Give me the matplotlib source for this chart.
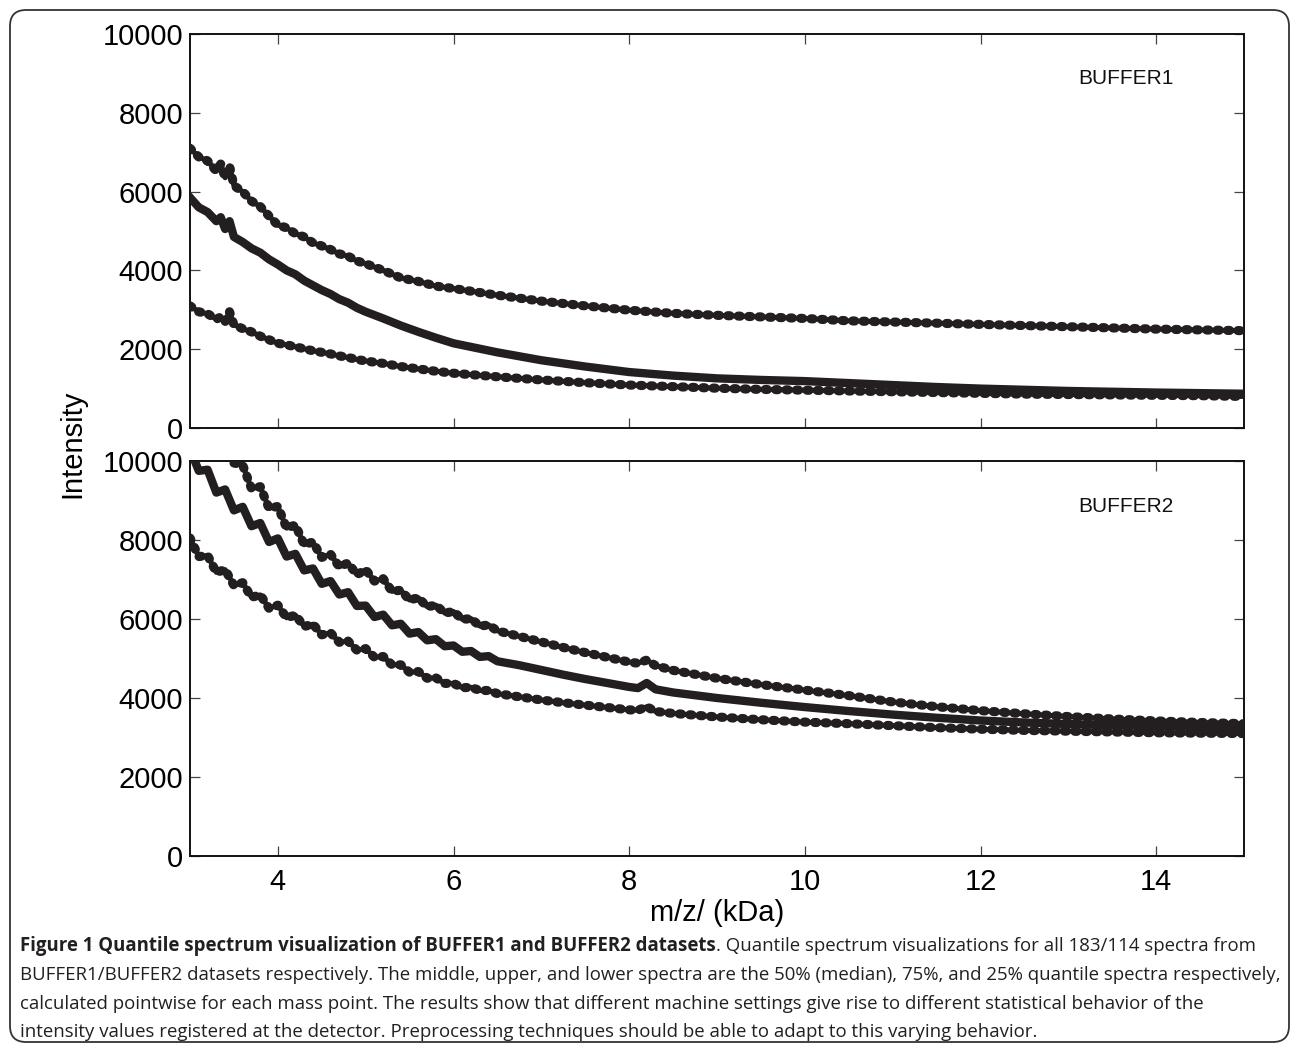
import matplotlib
matplotlib.use("Agg")
import matplotlib.pyplot as plt
from matplotlib.patches import FancyBboxPatch

plt.rcParams["font.family"] = ["Liberation Sans", "DejaVu Sans"]
plt.rcParams["lines.scale_dashes"] = False

# ---- BUFFER1 quantile spectra (m/z in kDa, intensity) ----
mz1 = [3.0, 3.1, 3.2, 3.3, 3.35, 3.4, 3.45, 3.5, 3.6, 3.7, 3.8, 3.9, 4.0,
       4.1, 4.2, 4.3, 4.4, 4.5, 4.6, 4.7, 4.8, 4.9, 5.0, 5.2, 5.4, 5.6,
       5.8, 6.0, 6.5, 7.0, 7.5, 8.0, 8.5, 9.0, 9.5, 10.0, 10.5, 11.0,
       11.5, 12.0, 12.5, 13.0, 13.5, 14.0, 14.5, 15.0]
b1_q75 = [7100, 6880, 6780, 6520, 6700, 6350, 6650, 6150, 6000, 5760, 5620,
          5380, 5150, 5080, 4930, 4850, 4700, 4620, 4530, 4420, 4360, 4240,
          4170, 4000, 3810, 3720, 3600, 3540, 3370, 3220, 3100, 2990, 2910,
          2860, 2820, 2780, 2720, 2690, 2660, 2630, 2600, 2570, 2540, 2510,
          2490, 2470]
b1_q50 = [5850, 5600, 5480, 5250, 5350, 5050, 5250, 4850, 4720, 4560, 4450,
          4280, 4150, 4000, 3900, 3740, 3620, 3500, 3400, 3270, 3180, 3050,
          2950, 2780, 2600, 2440, 2290, 2150, 1920, 1720, 1560, 1420, 1330,
          1260, 1220, 1190, 1140, 1090, 1040, 1000, 970, 940, 920, 900, 885,
          870]
b1_q25 = [3100, 2950, 2900, 2760, 2820, 2700, 2950, 2620, 2520, 2440, 2330,
          2240, 2150, 2110, 2060, 2010, 1960, 1920, 1880, 1830, 1790, 1740,
          1700, 1640, 1560, 1500, 1440, 1390, 1300, 1220, 1150, 1090, 1050,
          1010, 980, 960, 940, 920, 900, 880, 860, 850, 840, 830, 820, 800]

# ---- BUFFER2 quantile spectra ----
mz2 = [3.0, 3.1, 3.2, 3.3, 3.4, 3.5, 3.6, 3.7, 3.8, 3.9, 4.0, 4.1, 4.2, 4.3,
       4.4, 4.5, 4.6, 4.7, 4.8, 4.9, 5.0, 5.1, 5.2, 5.3, 5.4, 5.5, 5.6, 5.7,
       5.8, 5.9, 6.0, 6.1, 6.2, 6.3, 6.4, 6.5, 6.75, 7.0, 7.25, 7.5, 7.75,
       8.0, 8.1, 8.2, 8.3, 8.5, 9.0, 9.5, 10.0, 10.5, 11.0, 11.5, 12.0, 12.5,
       13.0, 13.5, 14.0, 14.5, 15.0]
b2_q75 = [11800, 11300, 11300, 10650, 10600, 9950, 9900, 9300, 9350, 8800,
          8850, 8300, 8380, 7880, 7950, 7560, 7640, 7320, 7420, 7120, 7250,
          6960, 7020, 6700, 6730, 6480, 6540, 6310, 6350, 6150, 6190, 5990,
          6010, 5820, 5850, 5700, 5560, 5420, 5280, 5150, 5030, 4910, 4880,
          4960, 4820, 4700, 4500, 4340, 4200, 4060, 3900, 3780, 3680, 3600,
          3530, 3470, 3420, 3380, 3350]
b2_q50 = [10300, 9750, 9780, 9200, 9280, 8750, 8840, 8350, 8430, 7950, 8040,
          7580, 7650, 7230, 7280, 6890, 6960, 6620, 6680, 6330, 6340, 6050,
          6110, 5840, 5880, 5630, 5670, 5460, 5490, 5310, 5330, 5170, 5190,
          5040, 5060, 4930, 4830, 4710, 4590, 4480, 4380, 4280, 4250, 4380,
          4220, 4140, 4000, 3880, 3770, 3670, 3580, 3500, 3430, 3380, 3340,
          3310, 3290, 3270, 3250]
b2_q25 = [8050, 7580, 7610, 7180, 7250, 6850, 6920, 6550, 6610, 6270, 6350,
          6030, 6100, 5810, 5870, 5600, 5650, 5410, 5440, 5210, 5250, 5030,
          5050, 4840, 4840, 4650, 4670, 4500, 4510, 4370, 4370, 4260, 4270,
          4190, 4190, 4110, 4030, 3950, 3880, 3820, 3760, 3700, 3690, 3780,
          3660, 3610, 3520, 3450, 3390, 3350, 3300, 3250, 3210, 3180, 3160,
          3140, 3120, 3110, 3100]

panel_names = ["BUFFER1", "BUFFER2"]
x_ticks = [4, 6, 8, 10, 12, 14]
y_ticks = [0, 2000, 4000, 6000, 8000, 10000]

caption_bold = "Figure 1 Quantile spectrum visualization of BUFFER1 and BUFFER2 datasets"
caption_lines = [
    ". Quantile spectrum visualizations for all 183/114 spectra from",
    "BUFFER1/BUFFER2 datasets respectively. The middle, upper, and lower spectra are the 50% (median), 75%, and 25% quantile spectra respectively,",
    "calculated pointwise for each mass point. The results show that different machine settings give rise to different statistical behavior of the",
    "intensity values registered at the detector. Preprocessing techniques should be able to adapt to this varying behavior.",
]

INK = "#231f20"
W, H = 1292, 1051
fig = plt.figure(figsize=(W / 100, H / 100), dpi=100)
fig.patch.set_facecolor("white")


def px_axes(left, top, right, bottom):
    return fig.add_axes([left / W, 1 - bottom / H, (right - left) / W, (bottom - top) / H])


ax_top = px_axes(190, 34, 1244, 428)
ax_bot = px_axes(190, 461, 1244, 856)


def draw_quantiles(ax, mz, q75, q50, q25):
    for q in (q75, q25):
        ax.plot(mz, q, color=INK, lw=3.6, solid_capstyle="round",
                solid_joinstyle="round", zorder=2)
        ax.plot(mz, q, color=INK, lw=6.6, linestyle=(0, (1.5, 6.0)),
                dash_capstyle="round", zorder=3)
    ax.plot(mz, q50, color=INK, lw=6.0, solid_joinstyle="round", zorder=3)


draw_quantiles(ax_top, mz1, b1_q75, b1_q50, b1_q25)
draw_quantiles(ax_bot, mz2, b2_q75, b2_q50, b2_q25)

for ax, name in zip((ax_top, ax_bot), panel_names):
    ax.set_xlim(3, 15)
    ax.set_ylim(0, 10000)
    ax.set_xticks(x_ticks)
    ax.set_yticks(y_ticks)
    ax.tick_params(direction="in", length=7, width=0.9, color="#444444",
                   top=True, right=True, labelsize=21, pad=5)
    ax.tick_params(axis="x", pad=9)
    for sp in ax.spines.values():
        sp.set_linewidth(1.4)
        sp.set_color("#111111")
    ax.text(0.8425, 0.886, name, transform=ax.transAxes, fontsize=15,
            ha="left", va="center", color="#111111")

ax_top.tick_params(labelbottom=False)

fig.text(72 / W, 1 - 444 / H, "Intensity", rotation=90, fontsize=21,
         ha="center", va="center")
fig.text(717 / W, 1 - 913 / H, "m/z/ (kDa)", fontsize=21,
         ha="center", va="center")

# Rounded frame around the whole figure
frame = FancyBboxPatch((10, 9), 1279, 1032,
                       boxstyle="round,pad=0,rounding_size=16",
                       transform=None, fill=False, lw=1.3, ec="#333333")
fig.add_artist(frame)

# Caption
cap_font = ["Open Sans", "DejaVu Sans"]
cap_size = 13.4
line_y = [946, 975, 1004, 1032]
t_bold = fig.text(20 / W, 1 - line_y[0] / H, caption_bold, fontsize=cap_size,
                  family=cap_font, fontweight="bold", color=INK,
                  ha="left", va="center")
fig.canvas.draw()
bb = t_bold.get_window_extent(renderer=fig.canvas.get_renderer())
fig.text(bb.x1 / W, 1 - line_y[0] / H, caption_lines[0], fontsize=cap_size,
         family=cap_font, color=INK, ha="left", va="center")
for y, line in zip(line_y[1:], caption_lines[1:]):
    fig.text(20 / W, 1 - y / H, line, fontsize=cap_size, family=cap_font,
             color=INK, ha="left", va="center")

fig.savefig("out.png", dpi=100)
